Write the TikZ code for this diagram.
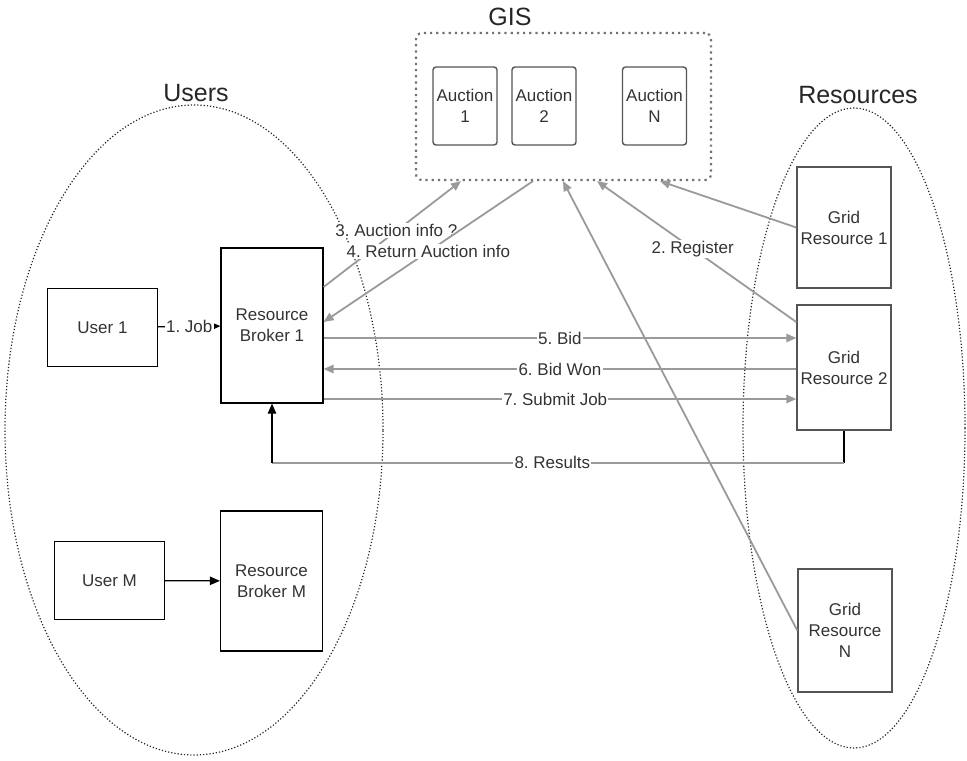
\documentclass[tikz,border=0pt]{standalone}
\usepackage{fontspec}
\setmainfont{Liberation Sans}
\usetikzlibrary{shapes.geometric, arrows.meta}
\frenchspacing

\definecolor{lineGray}{HTML}{9A9A9A}
\definecolor{textGray}{HTML}{333333}
\definecolor{boxGray}{HTML}{555555}

\tikzset{
  boxtext/.style={align=center, text=textGray, font=\fontsize{8.5}{10.5}\selectfont, inner sep=1pt},
  userbox/.style={boxtext, draw=black, line width=0.6pt, minimum width=55pt, minimum height=39pt},
  brokerbox/.style={boxtext, draw=black, line width=0.6pt, minimum width=51pt},
  gridbox/.style={boxtext, draw=boxGray, line width=0.7pt, minimum width=47pt},
  auctionbox/.style={boxtext, draw=boxGray, line width=0.7pt, rounded corners=1.5pt, minimum width=32pt, minimum height=39pt},
  gisbox/.style={draw=gray!90!black, dotted, line width=1.1pt, rounded corners=3pt, minimum width=147.5pt, minimum height=73.5pt},
  region/.style={ellipse, draw=black!85, densely dotted, line width=0.6pt, inner sep=0pt},
  title/.style={text=black!85, font=\fontsize{12.5}{14}\selectfont},
  msg/.style={draw=lineGray, line width=0.9pt, -{Triangle[length=5pt,width=4.2pt]}},
  blackmsg/.style={draw=black, line width=0.6pt, -{Triangle[length=5pt,width=4.2pt]}},
  lbl/.style={fill=white, inner sep=0.6pt, text=textGray, font=\fontsize{8.5}{10}\selectfont}
}

\begin{document}
\begin{tikzpicture}[x=0.5pt, y=-0.5pt]
\useasboundingbox (0,0) rectangle (967,760);

% regions
\node[region, minimum width=189pt, minimum height=325pt] (Users) at (194,430) {};
\node[region, minimum width=111pt, minimum height=320pt] (Resources) at (854,428) {};
\node[title] (UsersLbl) at (196,93) {Users};
\node[title] (ResourcesLbl) at (858,95) {Resources};

% GIS
\node[gisbox] (GIS) at (563.5,106.5) {};
\node[title] (GISLbl) at (510,17) {GIS};
\node[auctionbox] (Auction1) at (465,106) {Auction\\1};
\node[auctionbox] (Auction2) at (544,106) {Auction\\2};
\node[auctionbox] (AuctionN) at (654.5,106) {Auction\\N};

% users and brokers
\node[userbox] (User1) at (102.5,327.5) {User 1};
\node[brokerbox, minimum height=77.5pt] (Broker1) at (272,325.5) {Resource\\Broker 1};
\node[userbox] (UserM) at (109.5,580.5) {User M};
\node[brokerbox, minimum height=70pt] (BrokerM) at (271.5,581) {Resource\\Broker M};

% grid resources
\node[gridbox, minimum height=60.5pt] (Grid1) at (844,227.5) {Grid\\Resource 1};
\node[gridbox, minimum height=62.5pt] (Grid2) at (844,367.5) {Grid\\Resource 2};
\node[gridbox, minimum height=61.5pt] (GridN) at (845,630.5) {Grid\\Resource\\N};

% messages
\draw[blackmsg] (User1) -- node[lbl] {1. Job} (Broker1);
\draw[blackmsg] (UserM) -- (BrokerM);

\draw[msg] (Grid1.west) -- (GIS.south -| 660,0);
\draw[msg] (Grid2.west |- 0,322) -- node[lbl, pos=0.52] {2. Register} (GIS.south -| 597,0);
\draw[msg] (GridN.west) -- (GIS.south -| 563,0);

\draw[msg] (Broker1.east |- 0,287) -- node[lbl, pos=0.53] {3. Auction info ?} (GIS.south -| 461,0);
\draw[msg] (GIS.south -| 533,0) -- node[lbl, pos=0.5] {4. Return Auction info} (Broker1.east |- 0,322);

\draw[msg] (Broker1.east |- 0,338) -- node[lbl] {5. Bid} (Grid2.west |- 0,338);
\draw[msg] (Grid2.west |- 0,369) -- node[lbl] {6. Bid Won} (Broker1.east |- 0,369);
\draw[msg] (Broker1.east |- 0,399) -- node[lbl, pos=0.49] {7. Submit Job} (Grid2.west |- 0,399);

\draw[black, line width=0.6pt] (Grid2.south) -- ++(0,32) coordinate (ResTurn);
\coordinate (ResCorner) at (Broker1.south |- ResTurn);
\draw[draw=lineGray, line width=0.9pt] (ResTurn) -- node[lbl, pos=0.51] {8. Results} (ResCorner);
\draw[blackmsg] (ResCorner) -- (Broker1.south);
\end{tikzpicture}
\end{document}
